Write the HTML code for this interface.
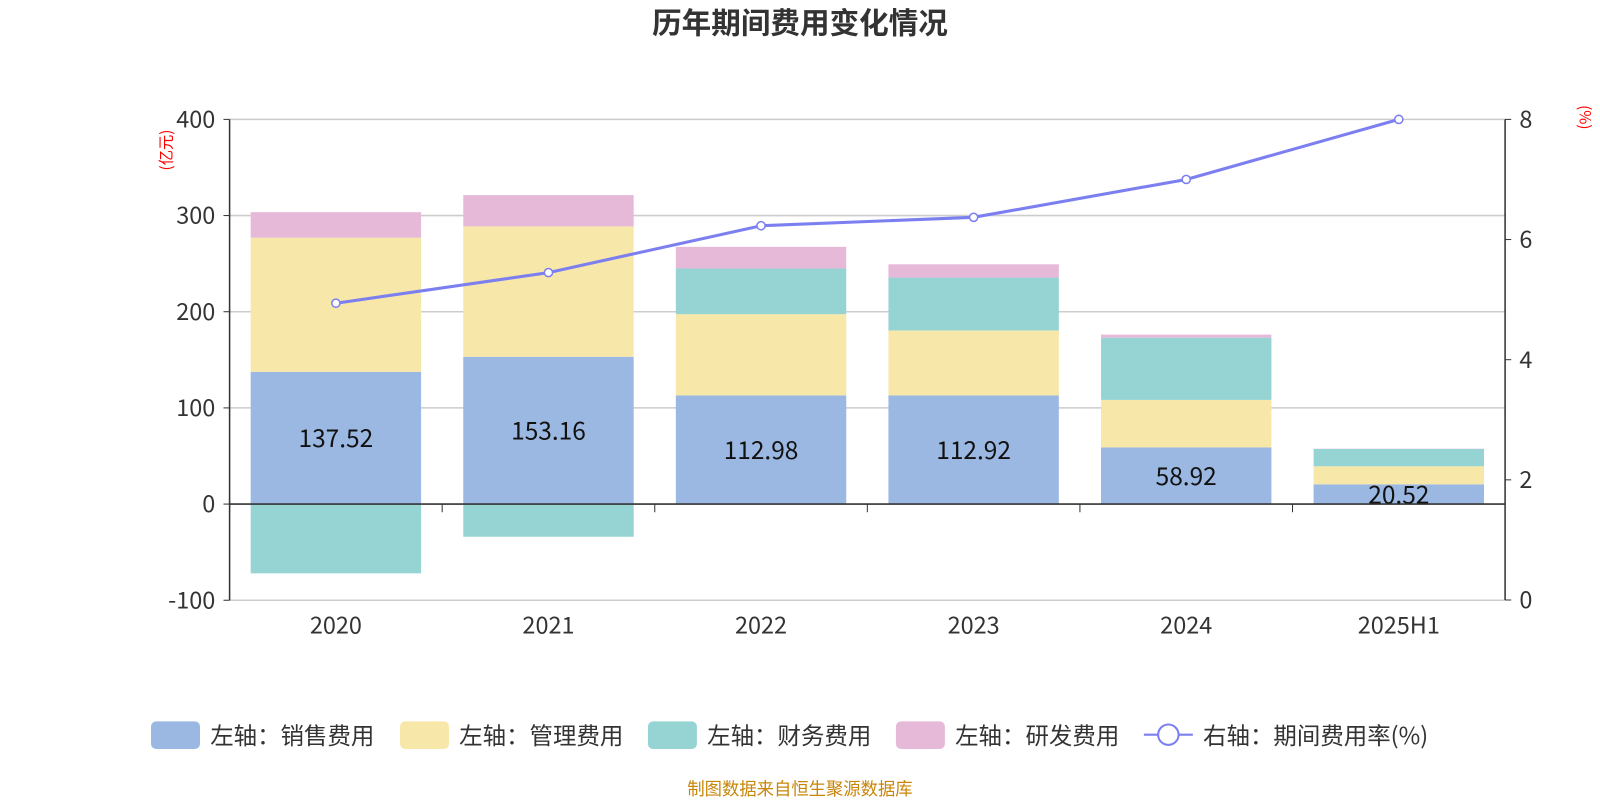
<!DOCTYPE html>
<html><head><meta charset="utf-8"><style>
body{margin:0;background:#fff;width:1600px;height:800px;overflow:hidden;font-family:"Noto Sans CJK SC","Liberation Sans",sans-serif}
</style></head><body>
<svg id="chart" width="1600" height="800" xmlns="http://www.w3.org/2000/svg" font-family="Noto Sans CJK SC, Liberation Sans, sans-serif">
<g transform="scale(1.0204)">
<text x="784" y="33" text-anchor="middle" font-size="29" font-weight="bold" fill="#333">历年期间费用变化情况</text>
<text transform="translate(168,147) rotate(-90)" font-size="15" fill="red" text-anchor="middle">(亿元)</text>
<text transform="translate(1548,115) rotate(90)" font-size="15" fill="red" text-anchor="middle">(%)</text>
<g id="grid"></g><g id="bars"></g><g id="axes"></g><g id="line"></g>
<g id="legend"></g>
<text x="784" y="779" text-anchor="middle" font-size="17" fill="#c8860a">制图数据来自恒生聚源数据库</text>
</g>
</svg>
<script>
const categories=["2020","2021","2022","2023","2024","2025H1"];
const sales=[137.52,153.16,112.98,112.92,58.92,20.52];
const mgmt=[139.5,135.6,84.5,67.6,49.4,18.8];
const finance=[-72,-34,47.5,55,64.7,18];
const rnd=[26.5,32.5,22.5,13.8,3.2,0.3];
const rate=[4.94,5.45,6.23,6.37,7.0,8.0];
const leftTicks=[-100,0,100,200,300,400];
const rightTicks=[0,2,4,6,8];
const NS="http://www.w3.org/2000/svg";
const X0=225,X1=1475,bw=(X1-X0)/categories.length;
const yL=v=>494-v*0.9425;
const yR=v=>588-v*(471/8);
function mk(p,t,a){const e=document.createElementNS(NS,t);for(const k in a)e.setAttribute(k,a[k]);p.appendChild(e);return e;}
const grid=document.getElementById('grid'),axes=document.getElementById('axes'),bars=document.getElementById('bars'),line=document.getElementById('line'),leg=document.getElementById('legend');
leftTicks.forEach(t=>{
 if(t!==0){const g=mk(grid,'line',{x1:X0,x2:X1,y1:yL(t),y2:yL(t),stroke:'#ccc','stroke-width':1.5});
 }
 mk(axes,'line',{x1:X0-6,x2:X0,y1:yL(t),y2:yL(t),stroke:'#333'});
 const tx=mk(axes,'text',{x:X0-14,y:yL(t)+8,'text-anchor':'end','font-size':23,fill:'#333'});tx.textContent=t;
 
});
rightTicks.forEach(t=>{
 mk(axes,'line',{x1:X1,x2:X1+6,y1:yR(t),y2:yR(t),stroke:'#333'});
 const tx=mk(axes,'text',{x:X1+14,y:yR(t)+8,'font-size':23,fill:'#333'});tx.textContent=t;
 
});
mk(axes,'line',{x1:X0,x2:X0,y1:yL(400),y2:yL(-100),stroke:'#333','stroke-width':1.5});
mk(axes,'line',{x1:X1,x2:X1,y1:yR(8),y2:yR(0),stroke:'#333','stroke-width':1.5});
const cols=['#9bb8e2','#f7e7a9','#96d4d4','#e6b9d9'];
categories.forEach((c,i)=>{
 const x=X0+i*bw+(bw-167)/2;
 let pos=0,neg=0;
 [sales,mgmt,finance,rnd].forEach((s,k)=>{
  const v=s[i];let y0,y1;
  if(v>=0){y0=pos;y1=pos+v;pos=y1;}else{y0=neg;y1=neg+v;neg=y1;}
  const r=mk(bars,'rect',{x:x,width:167,y:Math.min(yL(y0),yL(y1)),height:Math.abs(yL(y0)-yL(y1)),fill:cols[k]});
  
  
 });
 const lb=mk(bars,'text',{x:x+83.5,y:(yL(0)+yL(sales[i]))/2+9,'text-anchor':'middle','font-size':24,fill:'#111'});
 lb.textContent=sales[i].toFixed(2);
 
 const cx=X0+(i+0.5)*bw;
 const tl=mk(axes,'text',{x:cx,y:621,'text-anchor':'middle','font-size':23,fill:'#333'});tl.textContent=c;
 
 mk(axes,'line',{x1:X0+i*bw,x2:X0+i*bw,y1:494,y2:502,stroke:'#333'});
});
mk(axes,'line',{x1:X0,x2:X1,y1:494,y2:494,stroke:'#333','stroke-width':1.5});
const pts=rate.map((v,i)=>[X0+(i+0.5)*bw,yR(v)]);
const pl=mk(line,'polyline',{points:pts.map(p=>p.join(',')).join(' '),fill:'none',stroke:'#7b7ff0','stroke-width':3});

pts.forEach(p=>{const c=mk(line,'circle',{cx:p[0],cy:p[1],r:4,fill:'#fff',stroke:'#7b7ff0','stroke-width':1.5});
 });
const items=[['左轴：销售费用',148],['左轴：管理费用',392],['左轴：财务费用',635],['左轴：研发费用',878]];
items.forEach((it,k)=>{
 const g=mk(leg,'g',{});
 
 mk(g,'rect',{x:it[1],y:707,width:48,height:27,rx:5,fill:cols[k]});
 const t=mk(g,'text',{x:it[1]+58,y:729,'font-size':23,fill:'#333'});t.textContent=it[0];
});
const g=mk(leg,'g',{});

mk(g,'line',{x1:1121,x2:1169,y1:720,y2:720,stroke:'#7b7ff0','stroke-width':2});
mk(g,'circle',{cx:1145,cy:720,r:10,fill:'#fff',stroke:'#7b7ff0','stroke-width':2});
const t=mk(g,'text',{x:1179,y:729,'font-size':23,fill:'#333'});t.textContent='右轴：期间费用率(%)';
</script>
</body></html>
